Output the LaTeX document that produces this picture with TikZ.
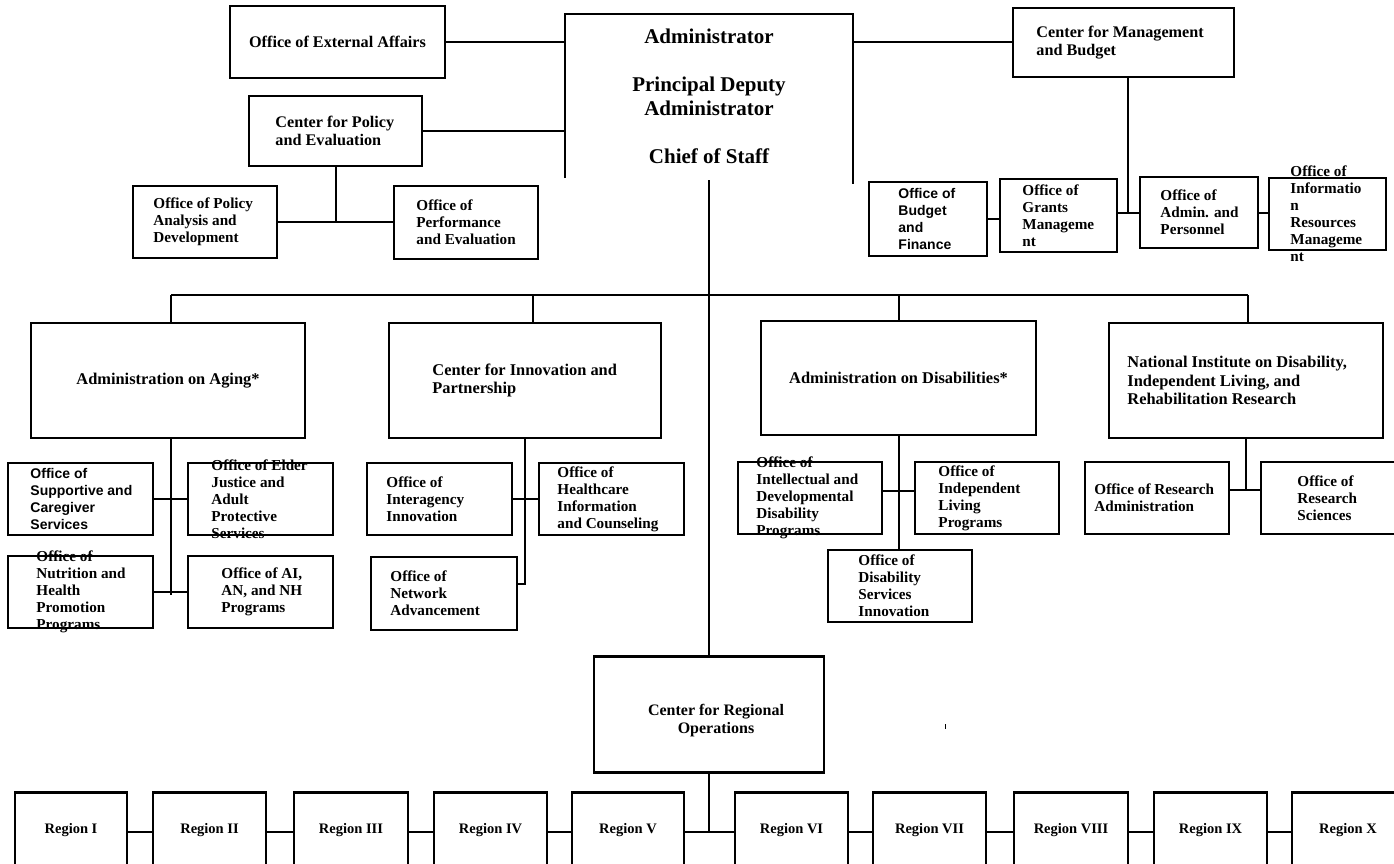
\documentclass[tikz,border=0pt]{standalone}
\usepackage{fontspec}
\setmainfont{Liberation Serif}
\newfontfamily\sansf{Liberation Sans}
\newcommand{\lbox}[8]{% name, x1,y1,x2,y2, left pad, text style, text
  \node[boxsty, minimum width={(#4)-(#2)}, minimum height={(#5)-(#3)}] (#1) at ({((#2)+(#4))/2},{((#3)+(#5))/2}) {};
  \node[#7, anchor=west] (#1-t) at ([xshift=#6pt]#1.west) {#8};
}
\newcommand{\cbox}[7]{% name, x1,y1,x2,y2, text style, text
  \node[boxsty, minimum width={(#4)-(#2)}, minimum height={(#5)-(#3)}] (#1) at ({((#2)+(#4))/2},{((#3)+(#5))/2}) {};
  \node[#6] (#1-t) at (#1.center) {#7};
}
\begin{document}
\begin{tikzpicture}[x=1pt,y=-1pt,
  boxsty/.style={draw,line width=1.5pt,inner sep=0pt,rectangle},
  con/.style={line width=2pt},
  rcon/.style={line width=2.6pt},
  thickedge/.style={line width=2.6pt},
  admt/.style={font=\bfseries\fontsize{21}{24}\selectfont,align=center,inner sep=0pt},
  topt/.style={font=\bfseries\fontsize{16.2}{18}\selectfont,align=left,inner sep=0pt},
  topc/.style={font=\bfseries\fontsize{16.2}{18}\selectfont,align=center,inner sep=0pt},
  l2t/.style={font=\bfseries\fontsize{16.4}{18.5}\selectfont,align=left,inner sep=0pt},
  l2c/.style={font=\bfseries\fontsize{16.4}{18.5}\selectfont,align=center,inner sep=0pt},
  smt/.style={font=\bfseries\fontsize{15.2}{17}\selectfont,align=left,inner sep=0pt},
  sst/.style={font=\sansf\bfseries\fontsize{14}{17}\selectfont,align=left,inner sep=0pt},
  crot/.style={font=\bfseries\fontsize{16}{18}\selectfont,align=center,inner sep=0pt},
  regt/.style={font=\bfseries\fontsize{14.5}{17}\selectfont,align=center,inner sep=0pt}]
\useasboundingbox (0,0) rectangle (1394,864);
\clip (0,0) rectangle (1394,864);

% ---- top level
\node[inner sep=0pt, minimum width=288, minimum height=164] (adm) at (709,96) {};
\draw[line width=1.5pt] (adm.south west) -- (adm.north west) -- (adm.north east) -- ([yshift=-6pt]adm.south east);
\node[admt] (adm-t) at (adm.center) {Administrator\\[24pt]Principal Deputy\\Administrator\\[24pt]Chief of Staff};

\cbox{oea}{230}{6}{445}{78}{topc}{Office of External Affairs}
\lbox{cpe}{249}{96}{422}{166}{27}{topt}{Center for Policy\\and Evaluation}
\lbox{cmb}{1013}{8}{1234}{77}{24}{topt}{Center for Management\\and Budget}

\lbox{opad}{133}{186}{277}{258}{21}{smt}{Office of Policy\\Analysis and\\Development}
\lbox{ope}{394}{186}{538}{259}{23}{smt}{Office of\\Performance\\and Evaluation}

\lbox{obf}{869}{182}{987}{256}{30}{sst}{Office of\\Budget\\and\\Finance}
\lbox{ogm}{1000}{179}{1117}{252}{23}{smt}{Office of\\Grants\\Manageme\\nt}
\lbox{oap}{1140}{177}{1258}{248}{21}{smt}{Office of\\Admin. and\\Personnel}
\lbox{oirm}{1269}{178}{1386}{250}{22}{smt}{Office of\\Informatio\\n\\Resources\\Manageme\\nt}

% ---- second level
\cbox{aoa}{31}{323}{305}{438}{l2c}{Administration on Aging*}
\lbox{cip}{389}{323}{661}{438}{44}{l2t}{Center for Innovation and\\Partnership}
\cbox{aod}{761}{321}{1036}{435}{l2c}{Administration on Disabilities*}
\lbox{nid}{1109}{323}{1383}{438}{19}{l2t}{National Institute on Disability,\\Independent Living, and\\Rehabilitation Research}

% ---- third level
\lbox{osc}{8}{463}{153}{535}{23}{sst}{Office of\\Supportive and\\Caregiver\\Services}
\lbox{oej}{188}{463}{333}{535}{24}{smt}{Office of Elder\\Justice and\\Adult\\Protective\\Services}
\lbox{onh}{8}{556}{153}{628}{29}{smt}{Office of\\Nutrition and\\Health\\Promotion\\Programs}
\lbox{oai}{188}{556}{333}{628}{34}{smt}{Office of AI,\\AN, and NH\\Programs}

\lbox{oii}{367}{463}{512}{535}{20}{smt}{Office of\\Interagency\\Innovation}
\lbox{ohic}{539}{463}{684}{535}{19}{smt}{Office of\\Healthcare\\Information\\and Counseling}
\lbox{ona}{371}{557}{517}{630}{20}{smt}{Office of\\Network\\Advancement}

\lbox{oidd}{738}{462}{882}{534}{19}{smt}{Office of\\Intellectual and\\Developmental\\Disability\\Programs}
\lbox{oilp}{915}{462}{1059}{534}{24}{smt}{Office of\\Independent\\Living\\Programs}
\lbox{odsi}{828}{550}{972}{622}{31}{smt}{Office of\\Disability\\Services\\Innovation}

\lbox{ora}{1085}{462}{1229}{534}{10}{smt}{Office of Research\\Administration}
\lbox{ors}{1261}{462}{1402}{534}{37}{smt}{Office of\\Research\\Sciences}

% ---- regional
\node[boxsty, minimum width=230, minimum height=115] (cro) at (709,714.5) {};
\draw[thickedge] (cro.north west) -- (cro.north east);
\draw[thickedge] (cro.south west) -- (cro.south east);
\node[crot] (cro-t) at ([xshift=7pt,yshift=-6pt]cro.center) {Center for Regional\\Operations};

\foreach \a/\b/\t [count=\i] in {15/127/I,153/266/II,294/408/III,434/547/IV,572/684/V,735/848/VI,873/986/VII,1014/1128/VIII,1154/1267/IX,1292/1404/X}{
  \node[boxsty, minimum width={\b-\a}, minimum height=82] (r\i) at ({(\a+\b)/2},834) {};
  \draw[thickedge] (r\i.north west) -- (r\i.north east);
  \node[regt] (r\i-t) at ({(\a+\b)/2},830) {Region \t};
}

% ---- connectors
\draw[con] (oea.east) -- (oea.east -| adm.west);
\draw[con] (cpe.east) -- (cpe.east -| adm.west);
\draw[con] (cmb.west -| adm.east) -- (cmb.west);

\draw[con] (cpe.south) -- (cpe.south |- opad.east);
\draw[con] (opad.east) -- (opad.east -| ope.west);

\draw[con] ([xshift=4.5pt]cmb.south) -- ([xshift=4.5pt]cmb.south |- oap.west);
\draw[con] (obf.east) -- (obf.east -| ogm.west);
\draw[con] (ogm.east |- oap.west) -- (oap.west);
\draw[con] (oap.east) -- (oap.east -| oirm.west);

\draw[con] ([yshift=-2pt]adm.south) -- (cro.north);

\coordinate (busL) at (171,295);
\coordinate (busC) at (533,295);
\coordinate (busR) at (1248,295);
\draw[con] (busL) -- (busR);
\draw[con] (busL) -- (busL |- aoa.north);
\draw[con] (busC) -- (busC |- cip.north);
\draw[con] (aod.north |- busL) -- (aod.north);
\draw[con] (busR) -- (busR |- nid.north);

\draw[con] (busL |- aoa.south) -- ([yshift=-3pt]busL |- onh.east);
\draw[con] (osc.east) -- (oej.west);
\draw[con] (onh.east) -- (oai.west);

\draw[con] (cip.south) |- ([yshift=10pt]ona.east);
\draw[con] (oii.east) -- (ohic.west);

\draw[con] (aod.south) -- (aod.south |- odsi.north);
\draw[con] ([yshift=7pt]oidd.east) -- ([yshift=7pt]oidd.east -| oilp.west);

\draw[con] (nid.south) -- ([yshift=8pt]nid.south |- ora.east);
\draw[con] ([yshift=8pt]ora.east) -- ([yshift=8pt]ora.east -| ors.west);

\draw[con] (cro.south) -- ([yshift=2pt]r5.east -| cro.south);
\foreach \i [evaluate=\i as \j using int(\i+1)] in {1,...,9}{
  \draw[rcon] ([yshift=2pt]r\i.east) -- ([yshift=2pt]r\j.west);
}

\draw[line width=1pt] (945,724) -- (945,729);
\end{tikzpicture}
\end{document}
